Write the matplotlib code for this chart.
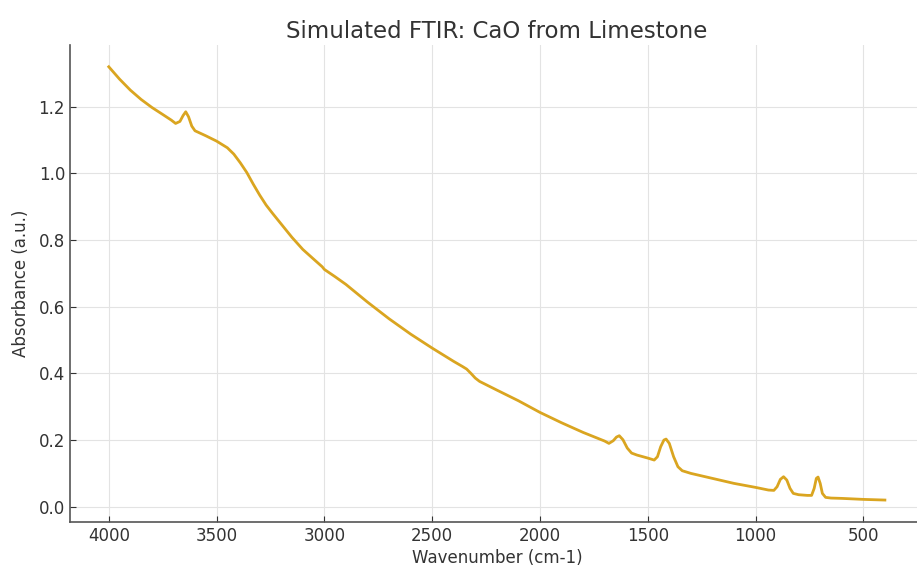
"""
Simulated FTIR spectrum of CaO from limestone.
"""
import matplotlib
matplotlib.use("Agg")
import matplotlib.pyplot as plt

# Values
wavenumber = [
    4000, 3950, 3900, 3850, 3800, 3750, 3710, 3690, 3670, 3655, 3643, 3630,
    3615, 3600, 3550, 3500, 3450, 3420, 3390, 3360, 3330, 3300, 3270, 3240,
    3200, 3150, 3100, 3050, 3010, 3000, 2950, 2900, 2800, 2700, 2600, 2500,
    2400, 2360, 2340, 2320, 2300, 2280, 2200, 2100, 2000, 1900, 1800, 1700,
    1680, 1660, 1645, 1632, 1615, 1595, 1575, 1550, 1500, 1470, 1455, 1440,
    1425, 1415, 1400, 1380, 1360, 1340, 1300, 1200, 1100, 1000, 940, 915,
    900, 885, 870, 855, 840, 825, 800, 760, 740, 728, 718, 710, 700, 690,
    675, 650, 600, 500, 400,
]
absorbance = [
    1.320, 1.283, 1.250, 1.222, 1.198, 1.177, 1.160, 1.150, 1.156, 1.174, 1.185, 1.170,
    1.142, 1.128, 1.113, 1.097, 1.077, 1.058, 1.032, 1.003, 0.968, 0.935, 0.905, 0.880,
    0.848, 0.808, 0.772, 0.743, 0.720, 0.712, 0.690, 0.667, 0.614, 0.564, 0.518, 0.476,
    0.436, 0.421, 0.413, 0.400, 0.386, 0.376, 0.350, 0.318, 0.283, 0.252, 0.223, 0.197,
    0.190, 0.198, 0.209, 0.213, 0.201, 0.176, 0.161, 0.155, 0.146, 0.140, 0.150, 0.180,
    0.200, 0.203, 0.190, 0.150, 0.120, 0.108, 0.100, 0.085, 0.070, 0.058, 0.050, 0.049,
    0.060, 0.082, 0.090, 0.080, 0.055, 0.040, 0.036, 0.034, 0.034, 0.055, 0.085, 0.089,
    0.070, 0.040, 0.028, 0.026, 0.025, 0.022, 0.020,
]

fig = plt.figure(figsize=(9.17, 5.69), dpi=100)
ax = fig.add_axes([0.0763, 0.0831, 0.931, 0.8376])

ax.plot(wavenumber, absorbance, color='goldenrod', lw=2)
ax.invert_xaxis()

ax.set_title('Simulated FTIR: CaO from Limestone', fontsize=16.5, color='#333333', pad=5)
ax.set_xlabel('Wavenumber (cm-1)', fontsize=12, color='#333333', labelpad=3)
ax.set_ylabel('Absorbance (a.u.)', fontsize=12, color='#333333', labelpad=6)

ax.grid(True, color='#e3e3e3', lw=0.8)
ax.set_axisbelow(True)
for side in ['top', 'right']:
    ax.spines[side].set_visible(False)
for side in ['left', 'bottom']:
    ax.spines[side].set_color('#555555')
    ax.spines[side].set_linewidth(1.2)
ax.tick_params(direction='in', length=4, labelsize=12, colors='#333333')

fig.savefig('out.png', dpi=100)
